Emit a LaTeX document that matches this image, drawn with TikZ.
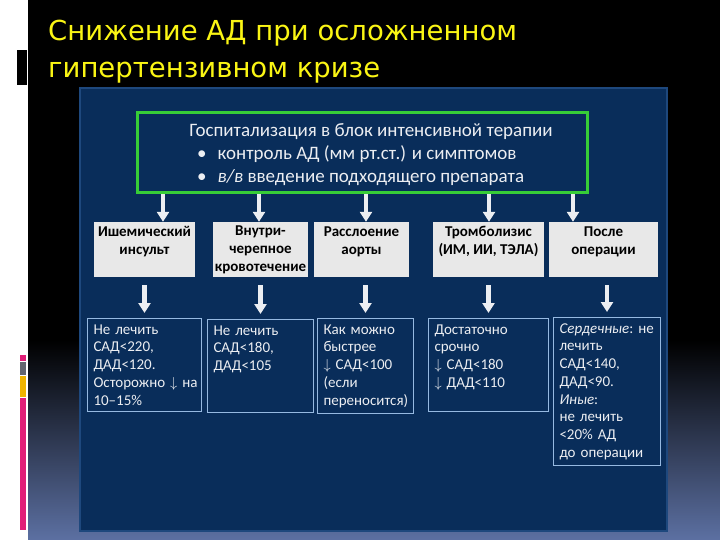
\documentclass[tikz,border=0pt]{standalone}
\usepackage{fontspec}
\usepackage{tikz}
\usetikzlibrary{arrows.meta}
\setmainfont{Carlito}
\newfontfamily\titlefont{DejaVu Sans}

\definecolor{panel}{RGB}{9,45,90}
\definecolor{paneledge}{RGB}{30,72,125}
\definecolor{icugreen}{RGB}{55,205,55}
\definecolor{lightbox}{RGB}{232,232,232}
\definecolor{outedge}{RGB}{150,185,225}
\definecolor{softwhite}{RGB}{236,238,242}
\definecolor{titleyellow}{RGB}{250,245,20}
\definecolor{slidebottom}{RGB}{92,112,162}
\definecolor{barpink}{RGB}{225,30,120}
\definecolor{bargray}{RGB}{100,102,112}
\definecolor{bargold}{RGB}{240,180,0}

\begin{document}
\begin{tikzpicture}[x=1pt,y=-1pt,
  every node/.style={font=\fontsize{15}{17.75}\selectfont},
  casebox/.style={fill=lightbox,inner sep=0pt,align=center,text=black,
    font=\bfseries\fontsize{15}{18}\selectfont,minimum height=55},
  outbox/.style={draw=outedge,line width=1pt,anchor=north west,align=left,
    text=softwhite,inner xsep=6,inner ysep=6},
  icutext/.style={text=softwhite,inner sep=0pt,font=\fontsize{19}{23}\selectfont},
  bigarrow/.style={draw=softwhite,line width=4.5pt,
    -{Triangle[width=12pt,length=10pt]}}]
  \useasboundingbox (0,0) rectangle (720,540);
  % slide background
  \fill[black] (28,0) rectangle (720,540);
  \shade[top color=black,bottom color=slidebottom] (28,340) rectangle (720,540);
  \fill[black] (17,50) rectangle (27,85);
  \fill[barpink] (20,355) rectangle (26,361);
  \fill[bargray] (20,362) rectangle (26,375);
  \fill[bargold] (20,376) rectangle (26,397);
  \fill[barpink] (20,398) rectangle (26,530);
  \node[anchor=north west,align=left,inner sep=0pt,text=titleyellow,
    font=\titlefont\fontsize{27.5}{37}\selectfont] (title) at (48,20)
    {Снижение АД при осложненном\\гипертензивном кризе};
  % blue panel
  \fill[panel,draw=paneledge,line width=1.5pt] (80,88) rectangle (667,531);

  % top box
  \node[draw=icugreen,line width=3pt,minimum width=450,minimum height=80] (icu) at (362,153) {};
  \node[icutext,anchor=base] (icuhead) at (371,137)
    {Госпитализация в блок интенсивной терапии};
  \node[icutext,anchor=base west] (icuA) at (197,160)
    {•\hspace{11pt}контроль АД (мм рт.ст.) и симптомов};
  \node[icutext,anchor=base west] (icuB) at (197,183)
    {•\hspace{11pt}\textit{в/в} введение подходящего препарата};

  % cases
  \node[casebox,minimum width=101] (isch) at (144.5,249.5) {Ишемический\\инсульт\\~};
  \node[casebox,minimum width=95] (ich) at (260.5,249.5) {Внутри-\\черепное\\кровотечение};
  \node[casebox,minimum width=95] (aorta) at (361.5,249.5) {Расслоение\\аорты\\~};
  \node[casebox,minimum width=111] (lysis) at (488.5,249.5) {Тромболизис\\(ИМ, ИИ, ТЭЛА)\\~};
  \node[casebox,minimum width=109] (postop) at (603.5,249.5) {После\\операции\\~};

  % targets
  \node[outbox,text width=102] (nt1) at (87,318)
    {Не лечить\\САД<220,\\ДАД<120.\\Осторожно~$\downarrow$~на\\10–15\%};
  \node[outbox,text width=94] (nt2) at (207,319)
    {Не лечить\\САД<180,\\ДАД<105\\~\\~};
  \node[outbox,text width=84] (nt3) at (317,318)
    {Как можно\\быстрее\\$\downarrow$ САД<100\\(если\\переносится)};
  \node[outbox,text width=108] (nt4) at (428,318)
    {Достаточно\\срочно\\$\downarrow$ САД<180\\$\downarrow$ ДАД<110\\~};
  \node[outbox,text width=95] (nt5) at (553,317)
    {\textit{Сердечные}:~не\\лечить\\САД<140,\\ДАД<90.\\\textit{Иные}:\\не лечить\\<20\% АД\\до операции};

  \draw[bigarrow] (icu.south -| 163,0) -- (isch.north -| 163,0);
  \draw[bigarrow] (icu.south -| 259,0) -- (ich.north -| 259,0);
  \draw[bigarrow] (icu.south -| 366,0) -- (aorta.north -| 366,0);
  \draw[bigarrow] (icu.south -| 489,0) -- (lysis.north -| 489,0);
  \draw[bigarrow] (icu.south -| 573,0) -- (postop.north -| 573,0);

  \draw[bigarrow,shorten <=8pt,shorten >=5pt] (isch.south -| nt1.north) -- (nt1.north);
  \draw[bigarrow,shorten <=8pt,shorten >=5pt] (ich.south -| nt2.north) -- (nt2.north);
  \draw[bigarrow,shorten <=8pt,shorten >=5pt] (aorta.south -| nt3.north) -- (nt3.north);
  \draw[bigarrow,shorten <=8pt,shorten >=5pt] (lysis.south -| nt4.north) -- (nt4.north);
  \draw[bigarrow,shorten <=8pt,shorten >=5pt] (postop.south -| nt5.north) -- (nt5.north);
\end{tikzpicture}
\end{document}
